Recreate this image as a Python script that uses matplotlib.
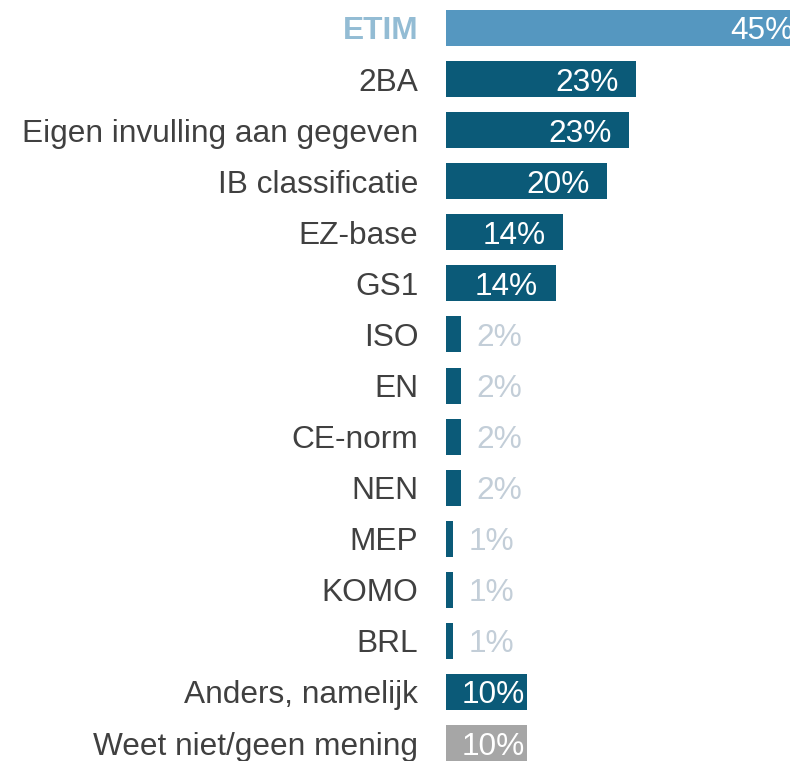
import matplotlib
import matplotlib.pyplot as plt
import numpy as np

matplotlib.use('Agg')
plt.rcParams['font.family'] = ['Liberation Sans', 'DejaVu Sans']

categories = ['ETIM', '2BA', 'Eigen invulling aan gegeven', 'IB classificatie', 'EZ-base',
              'GS1', 'ISO', 'EN', 'CE-norm', 'NEN', 'MEP', 'KOMO', 'BRL',
              'Anders, namelijk', 'Weet niet/geen mening']
values = [45.0, 23.4, 22.6, 19.9, 14.4, 13.5, 1.9, 1.9, 1.9, 1.9, 0.9, 0.9, 0.9, 10.0, 10.0]
labels = ['45%', '23%', '23%', '20%', '14%', '14%', '2%', '2%', '2%', '2%',
          '1%', '1%', '1%', '10%', '10%']

DARK = '#0b5a78'
colors = ['#5597c0'] + [DARK] * 13 + ['#a6a6a6']
FS = 22.8

fig = plt.figure(figsize=(7.9, 7.61), dpi=100)
ax = fig.add_axes([446 / 790, 0, 344 / 790, 1])

y = np.arange(len(categories))
ax.barh(y, values, height=0.705, color=colors, edgecolor='none')

ax.set_xlim(0, 42.4)
ax.set_ylim(14.352, -0.548)

for i, (v, lab) in enumerate(zip(values, labels)):
    if v >= 5:
        # short bars get their label almost flush with the end
        gap = -12.5 if v > 12 else -1.5
        ax.annotate(lab, (v, i), xytext=(gap, 0), textcoords='offset points',
                    ha='right', va='center_baseline', fontsize=FS, color='white',
                    annotation_clip=False)
    else:
        ax.annotate(lab, (v, i), xytext=(11, 0), textcoords='offset points',
                    ha='left', va='center_baseline', fontsize=FS, color='#c3ced8')

ax.set_yticks(y)
ax.set_yticklabels(categories, fontsize=FS, color='#404040')
ax.tick_params(axis='y', length=0, pad=20)
ticks = ax.get_yticklabels()
ticks[0].set_color('#93bcd4')
ticks[0].set_fontweight('bold')
ax.set_xticks([])
for s in ax.spines.values():
    s.set_visible(False)

fig.savefig('out.png', dpi=100)
